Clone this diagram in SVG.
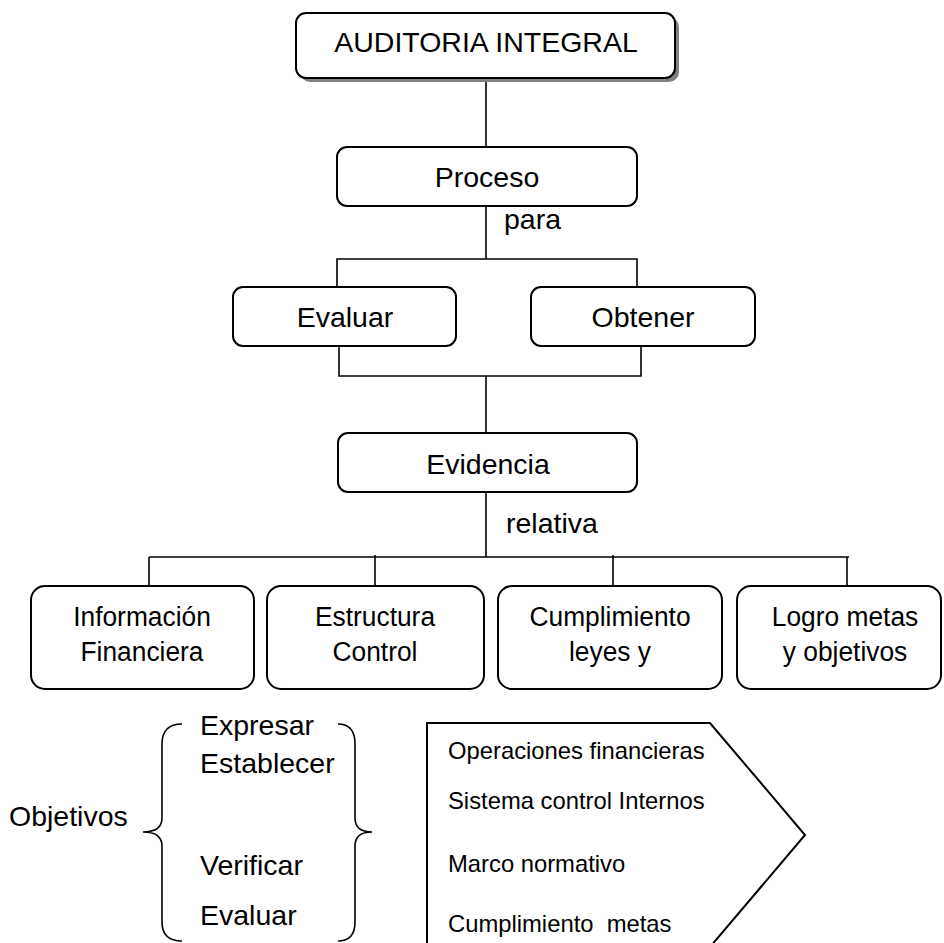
<svg xmlns="http://www.w3.org/2000/svg" width="944" height="943" viewBox="0 0 944 943">
  <defs>
    <style>
      .box { fill: #ffffff; stroke: #000000; stroke-width: 2; }
      .shadow { fill: #808080; stroke: none; }
      .wire { fill: none; stroke: #000000; stroke-width: 1.6; }
      .brace { fill: none; stroke: #000000; stroke-width: 1.6; }
      text { font-family: "Liberation Sans", Arial, sans-serif; fill: #000000; }
      .t28 { font-size: 28.5px; }
      .t26 { font-size: 28.2px; }
      .t24 { font-size: 23.8px; white-space: pre; }
      .mid { text-anchor: middle; }
    </style>
  </defs>

  <rect width="944" height="943" fill="#ffffff"/>

  <!-- connectors -->
  <g id="connectors">
    <line class="wire" x1="486" y1="80" x2="486" y2="147"/>
    <polyline class="wire" points="486,206 486,259"/>
    <polyline class="wire" points="337,287 337,259 637,259 637,287"/>
    <polyline class="wire" points="339,346 339,376 641,376 641,346"/>
    <line class="wire" x1="486" y1="376" x2="486" y2="433"/>
    <line class="wire" x1="486" y1="492" x2="486" y2="557"/>
    <line class="wire" x1="149" y1="557" x2="849" y2="557"/>
    <line class="wire" x1="149" y1="557" x2="149" y2="586"/>
    <line class="wire" x1="375" y1="555" x2="375" y2="586"/>
    <line class="wire" x1="613" y1="555" x2="613" y2="586"/>
    <line class="wire" x1="847" y1="557" x2="847" y2="586"/>
  </g>

  <!-- root node with drop shadow -->
  <g id="node-auditoria">
    <rect class="shadow" x="300" y="17" width="379" height="65" rx="10"/>
    <rect class="box" x="296" y="13" width="379" height="65" rx="10"/>
    <text class="t28 mid" x="486" y="52">AUDITORIA INTEGRAL</text>
  </g>

  <g id="node-proceso">
    <rect class="box" x="337" y="147" width="300" height="59" rx="10"/>
    <text class="t28 mid" x="487" y="187">Proceso</text>
  </g>
  <text id="label-para" class="t28" x="504" y="229">para</text>

  <g id="node-evaluar">
    <rect class="box" x="233" y="287" width="223" height="59" rx="10"/>
    <text class="t28 mid" x="345" y="327">Evaluar</text>
  </g>

  <g id="node-obtener">
    <rect class="box" x="531" y="287" width="224" height="59" rx="10"/>
    <text class="t28 mid" x="643" y="327">Obtener</text>
  </g>

  <g id="node-evidencia">
    <rect class="box" x="338" y="433" width="299" height="59" rx="10"/>
    <text class="t28 mid" x="488" y="474">Evidencia</text>
  </g>
  <text id="label-relativa" class="t28" x="506" y="533">relativa</text>

  <!-- lower row: labels are slightly condensed horizontally -->
  <g id="node-informacion">
    <rect class="box" x="31" y="586" width="223" height="103" rx="14"/>
    <g transform="translate(142,0) scale(0.935,1)">
      <text class="t26 mid" x="0" y="626">Información</text>
      <text class="t26 mid" x="0" y="661">Financiera</text>
    </g>
  </g>

  <g id="node-estructura">
    <rect class="box" x="267" y="586" width="217" height="103" rx="14"/>
    <g transform="translate(375,0) scale(0.935,1)">
      <text class="t26 mid" x="0" y="626">Estructura</text>
      <text class="t26 mid" x="0" y="661">Control</text>
    </g>
  </g>

  <g id="node-cumplimiento">
    <rect class="box" x="498" y="586" width="224" height="103" rx="14"/>
    <g transform="translate(610,0) scale(0.935,1)">
      <text class="t26 mid" x="0" y="626">Cumplimiento</text>
      <text class="t26 mid" x="0" y="661">leyes y</text>
    </g>
  </g>

  <g id="node-logro">
    <rect class="box" x="737" y="586" width="204" height="103" rx="14"/>
    <g transform="translate(845,0) scale(0.935,1)">
      <text class="t26 mid" x="0" y="626">Logro metas</text>
      <text class="t26 mid" x="0" y="661">y objetivos</text>
    </g>
  </g>

  <!-- objectives list between braces -->
  <g id="objetivos">
    <text class="t28" x="9" y="826">Objetivos</text>
    <path class="brace" d="M182,724 Q162,724 162,744 L162,818 Q162,832 143,832 Q162,832 162,846 L162,922 Q162,941 182,941"/>
    <text class="t28" x="200" y="735">Expresar</text>
    <text class="t28" x="200" y="773">Establecer</text>
    <text class="t28" x="200" y="875">Verificar</text>
    <text class="t28" x="200" y="925">Evaluar</text>
    <path class="brace" d="M338,724 Q355,724 355,744 L355,818 Q355,832 372,832 Q355,832 355,846 L355,922 Q355,941 338,941"/>
  </g>

  <!-- pentagon arrow with scope items -->
  <g id="node-alcance">
    <polygon class="box" points="427,723 710,723 805,835 710,947 427,947"/>
    <text class="t24" x="448" y="759">Operaciones financieras</text>
    <text class="t24" x="448" y="809">Sistema control Internos</text>
    <text class="t24" x="448" y="872">Marco normativo</text>
    <text class="t24" x="448" y="932">Cumplimiento  metas</text>
  </g>
</svg>
